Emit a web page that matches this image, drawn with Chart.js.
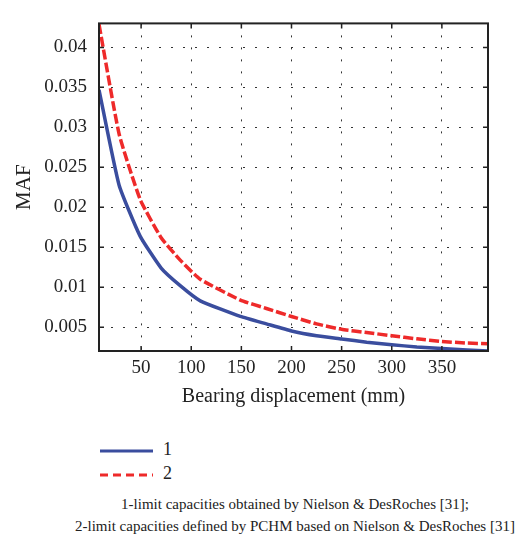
<!DOCTYPE html>
<html>
<head>
<meta charset="utf-8">
<script src="https://cdn.jsdelivr.net/npm/chart.js@4/dist/chart.umd.min.js"></script>
<style>
  html, body { margin: 0; padding: 0; background: #fff; }
  body { width: 525px; height: 539px; position: relative; overflow: hidden; font-family: "Liberation Serif", serif; color: #222; }
  #wrap { position: absolute; left: 0; top: 0; width: 525px; height: 415px; }
  .leg { position: absolute; left: 100px; font-size: 18px; line-height: 20px; }
  .leg svg { vertical-align: middle; margin-right: 10px; }
  .cap { position: absolute; left: 0; width: 590px; text-align: center; font-size: 15px; }
</style>
</head>
<body>
<div id="wrap"><canvas id="chart"></canvas></div>

<div class="leg" style="top:439px"><svg width="53" height="4"><line x1="0" y1="2" x2="53" y2="2" stroke="#3a4d9e" stroke-width="3"/></svg>1</div>
<div class="leg" style="top:463px"><svg width="53" height="4"><line x1="0" y1="2" x2="53" y2="2" stroke="#ee2a2a" stroke-width="3" stroke-dasharray="8,5"/></svg>2</div>

<div class="cap" style="top:496px">1-limit capacities obtained by Nielson &amp; DesRoches [31];</div>
<div class="cap" style="top:518px">2-limit capacities defined by PCHM based on Nielson &amp; DesRoches [31]</div>

<script>
// bearing displacement (mm)
const displacement = [8, 28, 49, 70, 89, 109, 149, 175, 200, 225, 250, 275, 300, 325, 350, 375, 396];
// MAF, limit capacities by Nielson & DesRoches
const maf1 = [0.0347, 0.0228, 0.0164, 0.0124, 0.0102, 0.0083, 0.00635, 0.00542, 0.00454, 0.00394, 0.00354, 0.00313, 0.00282, 0.00253, 0.00234, 0.00214, 0.00203];
// MAF, limit capacities defined by PCHM
const maf2 = [0.0429, 0.0292, 0.0210, 0.0162, 0.0134, 0.0110, 0.0084, 0.00735, 0.00635, 0.00542, 0.00474, 0.00434, 0.00394, 0.00355, 0.00322, 0.00302, 0.00294];

const xTicks = [50, 100, 150, 200, 250, 300, 350];
const yTicks = [0.005, 0.01, 0.015, 0.02, 0.025, 0.03, 0.035, 0.04];

const toPoints = (ys) => displacement.map((x, i) => ({ x: x, y: ys[i] }));

// frame with inward tick marks, like the matlab box
const frame = {
  id: 'frame',
  afterDatasetsDraw(chart) {
    const { ctx, chartArea: a, scales } = chart;
    ctx.save();
    ctx.strokeStyle = '#222';
    ctx.lineWidth = 1.5;
    ctx.beginPath();
    xTicks.forEach(v => {
      const px = scales.x.getPixelForValue(v);
      ctx.moveTo(px, a.bottom); ctx.lineTo(px, a.bottom - 5);
      ctx.moveTo(px, a.top); ctx.lineTo(px, a.top + 5);
    });
    yTicks.forEach(v => {
      const py = scales.y.getPixelForValue(v);
      ctx.moveTo(a.left, py); ctx.lineTo(a.left + 5, py);
      ctx.moveTo(a.right, py); ctx.lineTo(a.right - 5, py);
    });
    ctx.stroke();
    ctx.lineWidth = 2;
    ctx.strokeRect(a.left, a.top, a.right - a.left, a.bottom - a.top);
    ctx.restore();
  }
};

const tickFont = { family: 'Liberation Serif', size: 19 };

new Chart(document.getElementById('chart'), {
  type: 'line',
  data: {
    datasets: [
      { label: '1', data: toPoints(maf1), borderColor: '#3a4d9e', borderWidth: 3.5, pointRadius: 0, tension: 0.15 },
      { label: '2', data: toPoints(maf2), borderColor: '#ee2a2a', borderWidth: 3.5, borderDash: [10, 3], pointRadius: 0, tension: 0.15 },
    ],
  },
  options: {
    responsive: true,
    maintainAspectRatio: false,
    animation: false,
    layout: { padding: { left: 0, right: 37, top: 10, bottom: 0 } },
    plugins: {
      legend: { display: false },
      tooltip: { enabled: false },
    },
    scales: {
      x: {
        type: 'linear',
        min: 8,
        max: 396,
        afterBuildTicks: (scale) => { scale.ticks = xTicks.map(v => ({ value: v })); },
        afterFit: (scale) => { scale.height = 64; },
        grid: { color: '#333', lineWidth: 1, drawTicks: false },
        border: { display: false, dash: [2, 10] },
        ticks: { color: '#222', font: tickFont, padding: 6, maxRotation: 0 },
        title: { display: true, text: 'Bearing displacement (mm)', color: '#222', font: { family: 'Liberation Serif', size: 20 }, padding: { top: 0, bottom: 6 } },
      },
      y: {
        min: 0.00203,
        max: 0.043,
        afterBuildTicks: (scale) => { scale.ticks = yTicks.map(v => ({ value: v })); },
        afterFit: (scale) => { scale.width = 99; },
        grid: { color: '#333', lineWidth: 1, drawTicks: false },
        border: { display: false, dash: [2, 10] },
        ticks: { color: '#222', font: tickFont, padding: 12, callback: (v) => String(+v.toFixed(3)) },
        title: { display: true, text: 'MAF', color: '#222', font: { family: 'Liberation Serif', size: 21 }, padding: { top: 12, bottom: 0 } },
      },
    },
  },
  plugins: [frame],
});
</script>
</body>
</html>
